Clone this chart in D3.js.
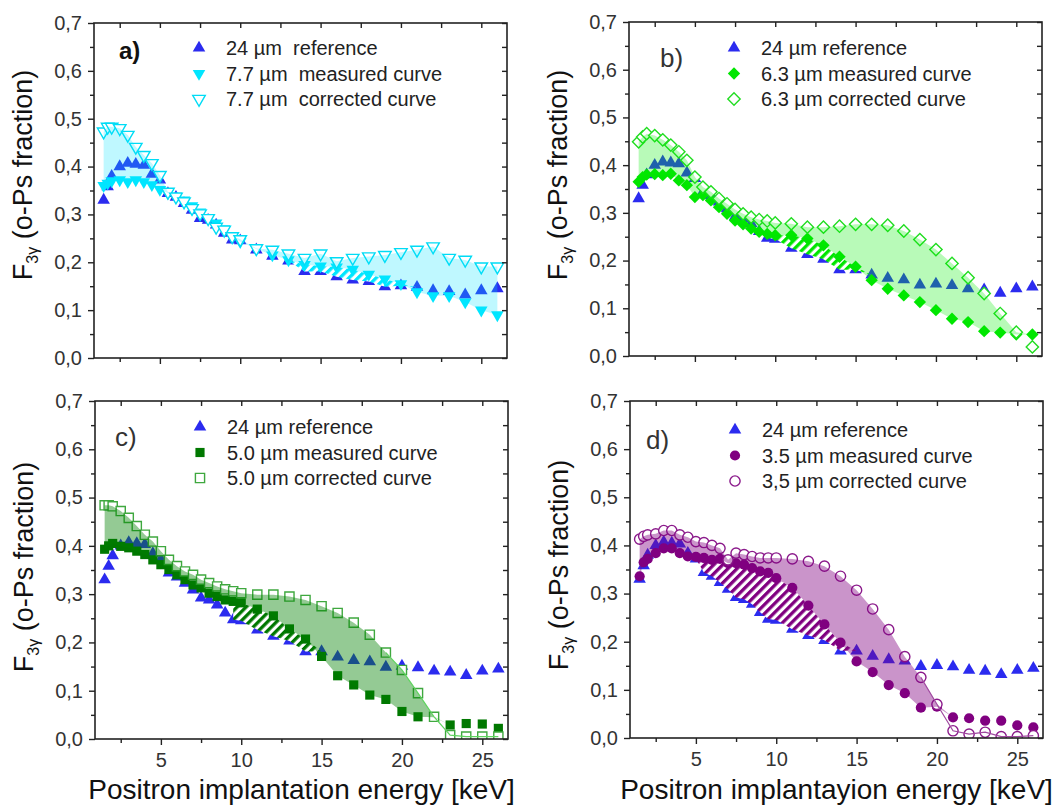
<!DOCTYPE html>
<html>
<head>
<meta charset="utf-8">
<script src="https://cdn.jsdelivr.net/npm/d3@7"></script>
<style>
body { margin: 0; background: #fff; }
svg { display: block; font-family: "Liberation Sans", Arial, sans-serif; }
text { white-space: pre; }
</style>
</head>
<body>
<svg id="chart" width="1055" height="806"></svg>
<script>
// positron implantation energy [keV], shared by every series
const energy = [1.5, 1.75, 2, 2.5, 3, 3.5, 4, 4.5, 5, 5.5, 6, 6.5, 7, 7.5, 8, 8.5, 9, 9.5, 10,
  11, 12, 13, 14, 15, 16, 17, 18, 19, 20, 21, 22, 23, 24, 25, 26];

// 24 um reference sample
const ref24 = [0.330, 0.358, 0.380, 0.400, 0.407, 0.405, 0.403, 0.384, 0.372, 0.344, 0.336, 0.323, 0.309, 0.292, 0.288, 0.278, 0.261, 0.247, 0.245,
  0.226, 0.213, 0.203, 0.181, 0.181, 0.170, 0.163, 0.160, 0.149, 0.151, 0.148, 0.141, 0.139, 0.132, 0.141, 0.145];

// 7.7 um
const meas77 = [0.360, 0.365, 0.370, 0.372, 0.368, 0.372, 0.368, 0.362, 0.352, 0.345, 0.338, 0.330, 0.318, 0.305, 0.293, 0.282, 0.270, 0.255, 0.243,
  0.228, 0.215, 0.205, 0.195, 0.192, 0.190, 0.185, 0.175, 0.165, 0.155, 0.138, 0.130, 0.130, 0.117, 0.100, 0.090];
const corr77 = [0.473, 0.483, 0.483, 0.480, 0.466, 0.441, 0.424, 0.407, 0.382, 0.347, 0.337, 0.327, 0.313, 0.302, 0.292, 0.274, 0.268, 0.254, 0.248,
  0.229, 0.226, 0.218, 0.209, 0.218, 0.202, 0.209, 0.212, 0.215, 0.221, 0.226, 0.233, 0.209, 0.205, 0.191, 0.191];

// 6.3 um
const meas63 = [0.365, 0.375, 0.380, 0.381, 0.379, 0.382, 0.368, 0.358, 0.333, 0.337, 0.326, 0.312, 0.298, 0.284, 0.276, 0.267, 0.260, 0.256, 0.253,
  0.253, 0.246, 0.232, 0.208, 0.187, 0.159, 0.141, 0.127, 0.113, 0.096, 0.078, 0.071, 0.052, 0.049, 0.045, 0.045];
const corr63 = [0.449, 0.459, 0.466, 0.462, 0.453, 0.442, 0.428, 0.410, 0.375, 0.354, 0.344, 0.330, 0.319, 0.307, 0.298, 0.291, 0.286, 0.283, 0.279,
  0.277, 0.270, 0.270, 0.272, 0.276, 0.276, 0.274, 0.262, 0.244, 0.223, 0.194, 0.164, 0.131, 0.089, 0.050, 0.019];

// 5.0 um
const meas50 = [0.393, 0.400, 0.405, 0.399, 0.396, 0.389, 0.382, 0.371, 0.361, 0.351, 0.340, 0.330, 0.319, 0.313, 0.302, 0.295, 0.288, 0.285, 0.282,
  0.269, 0.255, 0.228, 0.207, 0.171, 0.131, 0.112, 0.091, 0.082, 0.057, 0.046, 0.045, 0.029, 0.032, 0.031, 0.022];
const corr50 = [0.484, 0.484, 0.482, 0.472, 0.458, 0.441, 0.423, 0.409, 0.389, 0.371, 0.358, 0.347, 0.340, 0.330, 0.323, 0.316, 0.310, 0.306, 0.302,
  0.299, 0.299, 0.295, 0.288, 0.275, 0.261, 0.241, 0.216, 0.179, 0.143, 0.095, 0.046, 0.008, 0.005, 0.005, 0.005];

// 3.5 um
const meas35 = [0.336, 0.365, 0.372, 0.384, 0.394, 0.394, 0.384, 0.377, 0.376, 0.374, 0.370, 0.372, 0.363, 0.363, 0.360, 0.353, 0.346, 0.343, 0.332,
  0.312, 0.275, 0.236, 0.198, 0.159, 0.137, 0.110, 0.093, 0.063, 0.065, 0.043, 0.041, 0.036, 0.036, 0.026, 0.022];
const corr35 = [0.413, 0.419, 0.422, 0.424, 0.431, 0.431, 0.422, 0.417, 0.408, 0.406, 0.400, 0.394, 0.370, 0.384, 0.381, 0.377, 0.374, 0.374, 0.374,
  0.372, 0.367, 0.357, 0.336, 0.307, 0.268, 0.225, 0.169, 0.126, 0.070, 0.015, 0.008, 0.012, 0.003, 0.003, 0.005];

// energy range of the hatched (measured above reference) band per panel
const hatchRanges = [[13, 21], [9, 16], [9.5, 15], [4.5, 15]];

const legendA = ["24 µm  reference", "7.7 µm  measured curve", "7.7 µm  corrected curve"];
const legendB = ["24 µm reference", "6.3 µm measured curve", "6.3 µm corrected curve"];
const legendC = ["24 µm reference", "5.0 µm measured curve", "5.0 µm corrected curve"];
const legendD = ["24 µm reference", "3.5 µm measured curve", "3,5 µm corrected curve"];

const xMajor = [5, 10, 15, 20, 25];
const xMinor = [2.5, 7.5, 12.5, 17.5, 22.5];
const yMajor = [0, 0.1, 0.2, 0.3, 0.4, 0.5, 0.6, 0.7];
const yMinor = [0.05, 0.15, 0.25, 0.35, 0.45, 0.55, 0.65];
const yTickLabels = ["0,0", "0,1", "0,2", "0,3", "0,4", "0,5", "0,6", "0,7"];

const xTitles = ["Positron implantation energy [keV]", "Positron implantayion energy [keV]"];

const refColor = "#2b2bef";

const panels = [
  { key: "a", label: "a)", bold: true, left: 94, top: 23, w: 413, h: 335, bottomRow: false,
    meas: meas77, corr: corr77, legend: legendA, hatch: hatchRanges[0],
    measShape: "down", color: "#00e6ff", corrColor: "#00dcf5", fill: "#00e5ff", fillOp: 0.25, edge: null,
    lab: [25, 36, 24], legY: 25, titleY: 152 },
  { key: "b", label: "b)", bold: false, left: 629, top: 22, w: 413, h: 334, bottomRow: false,
    meas: meas63, corr: corr63, legend: legendB, hatch: hatchRanges[1],
    measShape: "diamond", color: "#00e600", corrColor: "#22dd22", fill: "#00ee00", fillOp: 0.28, edge: null,
    lab: [31, 45, 26], legY: 26, titleY: 153 },
  { key: "c", label: "c)", bold: false, left: 95, top: 401, w: 413, h: 338, bottomRow: true,
    meas: meas50, corr: corr50, legend: legendC, hatch: hatchRanges[2],
    measShape: "square", color: "#007800", corrColor: "#3fa83f", fill: "#008000", fillOp: 0.42, edge: "#5fd45f",
    lab: [20, 45, 26], legY: 26, titleY: 166 },
  { key: "d", label: "d)", bold: false, left: 630, top: 401, w: 413, h: 337, bottomRow: true,
    meas: meas35, corr: corr35, legend: legendD, hatch: hatchRanges[3],
    measShape: "circle", color: "#800080", corrColor: "#8b1a8b", fill: "#800080", fillOp: 0.42, edge: "#a04aa0",
    lab: [16, 48, 26], legY: 29, titleY: 164 }
];

const svg = d3.select("#chart");
const defs = svg.append("defs");

function symbolPath(shape) {
  if (shape === "up" || shape === "down") return d3.symbol(d3.symbolTriangle, 68)();
  if (shape === "diamond") return d3.symbol(d3.symbolSquare, 76)();
  if (shape === "square") return d3.symbol(d3.symbolSquare, 84)();
  return d3.symbol(d3.symbolCircle, 82)();
}
function symbolRot(shape) {
  if (shape === "down") return " rotate(180)";
  if (shape === "diamond") return " rotate(45)";
  return "";
}

function drawMarkers(g, xs, ys, vals, shape, fill, stroke) {
  g.append("g").selectAll("path")
    .data(vals)
    .join("path")
      .attr("d", symbolPath(shape))
      .attr("transform", (d, i) => `translate(${xs(energy[i])},${ys(d)})` + symbolRot(shape))
      .attr("fill", fill)
      .attr("stroke", stroke)
      .attr("stroke-width", stroke === "none" ? 0 : 1.4);
}

panels.forEach((p, pi) => {
  const x = d3.scaleLinear().domain([0.9, 26.6]).range([p.left, p.left + p.w]);
  const y = d3.scaleLinear().domain([0, 0.7]).range([p.top + p.h, p.top]);
  const idx = d3.range(energy.length);

  defs.append("clipPath").attr("id", "clip-" + p.key)
    .append("rect").attr("x", p.left).attr("y", p.top).attr("width", p.w).attr("height", p.h);

  const pat = defs.append("pattern")
    .attr("id", "hatch-" + p.key)
    .attr("patternUnits", "userSpaceOnUse")
    .attr("width", 6.4).attr("height", 6.4)
    .attr("patternTransform", "rotate(45)");
  pat.append("rect").attr("width", 6.4).attr("height", 6.4).attr("fill", "#fff");
  pat.append("rect").attr("width", 3.3).attr("height", 6.4).attr("fill", p.color);

  const g = svg.append("g").attr("clip-path", `url(#clip-${p.key})`);

  // reference markers
  drawMarkers(g, x, y, ref24, "up", refColor, "none");

  // hatched band between measured and reference
  const hIdx = idx.filter(i => energy[i] >= p.hatch[0] && energy[i] <= p.hatch[1]);
  g.append("path")
    .datum(hIdx)
    .attr("d", d3.area()
      .x(i => x(energy[i]))
      .y0(i => y(ref24[i]))
      .y1(i => y(Math.max(p.meas[i], ref24[i]))))
    .attr("fill", `url(#hatch-${p.key})`);

  // measured and corrected markers
  drawMarkers(g, x, y, p.meas, p.measShape, p.color, "none");
  drawMarkers(g, x, y, p.corr, p.measShape === "up" ? "down" : p.measShape, "#fff", p.corrColor);

  // translucent band between measured and corrected curve
  g.append("path")
    .datum(idx)
    .attr("d", d3.area()
      .x(i => x(energy[i]))
      .y0(i => y(p.meas[i]))
      .y1(i => y(Math.max(p.corr[i], p.meas[i]))))
    .attr("fill", p.fill)
    .attr("fill-opacity", p.fillOp);

  if (p.edge) {
    g.append("path")
      .datum(idx.filter(i => energy[i] >= 19))
      .attr("d", d3.line().x(i => x(energy[i])).y(i => y(p.corr[i])))
      .attr("fill", "none")
      .attr("stroke", p.edge)
      .attr("stroke-width", 1.2);
  }

  // axes
  const ax = svg.append("g").attr("class", "axes");
  const bottom = p.top + p.h, right = p.left + p.w;
  const styleAxis = sel => {
    sel.select(".domain").remove();
    sel.selectAll("line").attr("stroke", "#222").attr("stroke-width", 1.4);
    sel.selectAll("text").attr("fill", "#333").attr("font-size", 20)
      .attr("font-family", "Liberation Sans, Arial, sans-serif");
  };

  ax.append("g").attr("transform", `translate(0,${bottom})`)
    .call(d3.axisBottom(x).tickValues(xMajor).tickSize(6).tickPadding(8)
      .tickFormat(p.bottomRow ? d3.format("d") : () => ""))
    .call(styleAxis);
  ax.append("g").attr("transform", `translate(0,${bottom})`)
    .call(d3.axisBottom(x).tickValues(xMinor).tickSize(4).tickFormat(() => ""))
    .call(styleAxis);
  ax.append("g").attr("transform", `translate(0,${p.top})`)
    .call(d3.axisTop(x).tickValues(xMajor.concat(xMinor)).tickSize(-5).tickFormat(() => ""))
    .call(styleAxis);

  ax.append("g").attr("transform", `translate(${p.left},0)`)
    .call(d3.axisLeft(y).tickValues(yMajor).tickSize(6).tickPadding(6)
      .tickFormat((d, i) => yTickLabels[i]))
    .call(styleAxis);
  ax.append("g").attr("transform", `translate(${p.left},0)`)
    .call(d3.axisLeft(y).tickValues(yMinor).tickSize(4).tickFormat(() => ""))
    .call(styleAxis);
  ax.append("g").attr("transform", `translate(${right},0)`)
    .call(d3.axisRight(y).tickValues(yMajor.concat(yMinor)).tickSize(-5).tickFormat(() => ""))
    .call(styleAxis);

  ax.append("rect")
    .attr("x", p.left).attr("y", p.top).attr("width", p.w).attr("height", p.h)
    .attr("fill", "none").attr("stroke", "#222").attr("stroke-width", 1.6);

  // panel label
  svg.append("text")
    .attr("x", p.left + p.lab[0]).attr("y", p.top + p.lab[1])
    .attr("font-size", p.lab[2])
    .attr("font-weight", p.bold ? "bold" : "normal")
    .attr("fill", p.bold ? "#111" : "#333")
    .text(p.label);

  // legend
  const shapes = ["up", p.measShape, p.measShape === "up" ? "down" : p.measShape];
  const fills = [refColor, p.color, "#fff"];
  const strokes = ["none", "none", p.corrColor];
  p.legend.forEach((t, i) => {
    const ly = p.top + p.legY + i * 25.5;
    svg.append("path")
      .attr("d", symbolPath(shapes[i]))
      .attr("transform", `translate(${p.left + 105},${ly})` + symbolRot(shapes[i]))
      .attr("fill", fills[i]).attr("stroke", strokes[i])
      .attr("stroke-width", strokes[i] === "none" ? 0 : 1.4);
    svg.append("text")
      .attr("x", p.left + 132).attr("y", ly + 7)
      .attr("font-size", 20).attr("fill", "#222")
      .text(t);
  });

  // y title
  const tx = p.left - 62, ty = p.top + p.titleY;
  const yt = svg.append("text")
    .attr("transform", `translate(${tx},${ty}) rotate(-90)`)
    .attr("text-anchor", "middle")
    .attr("font-size", 27).attr("fill", "#111");
  yt.append("tspan").text("F");
  yt.append("tspan").attr("font-size", 16).attr("dy", 6).text("3γ");
  yt.append("tspan").attr("dy", -6).text(" (o-Ps fraction)");

  // x title
  if (p.bottomRow) {
    svg.append("text")
      .attr("x", p.left + p.w / 2).attr("y", 799)
      .attr("text-anchor", "middle")
      .attr("font-size", 28).attr("fill", "#111")
      .text(xTitles[pi - 2]);
  }
});
</script>
</body>
</html>
